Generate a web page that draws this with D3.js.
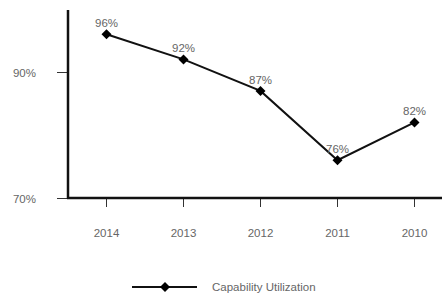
<!DOCTYPE html>
<html>
<head>
<meta charset="utf-8">
<script src="https://cdn.jsdelivr.net/npm/d3@7"></script>
<style>
  body { margin: 0; background: #fff; }
  svg { display: block; font-family: "Liberation Sans", Arial, sans-serif; }
  .lbl { fill: #666; font-size: 11.5px; }
</style>
</head>
<body>
<svg id="chart" width="442" height="301"></svg>
<script>
// data
const years = ['2014', '2013', '2012', '2011', '2010'];
const utilization = [96, 92, 87, 76, 82];
const yTicks = [70, 90];
const seriesName = 'Capability Utilization';

const svg = d3.select('#chart');

const x = d3.scaleBand().domain(years).range([68, 453]);
const y = d3.scaleLinear().domain([70, 100]).range([198, 9]);

// y axis
const yAxis = svg.append('g').attr('transform', 'translate(68,0)')
  .call(d3.axisLeft(y).tickValues(yTicks).tickSize(11).tickFormat(d => d + '%'));
yAxis.select('.domain').remove();
yAxis.selectAll('.tick line').attr('stroke', '#333');
yAxis.selectAll('.tick text').attr('class', 'lbl').attr('x', -32).attr('dy', '0.4em')
  .attr('font-size', null).attr('font-family', null);

// x axis
const xAxis = svg.append('g').attr('transform', 'translate(0,198)')
  .call(d3.axisBottom(x).tickSize(9).tickPadding(22));
xAxis.select('.domain').remove();
xAxis.selectAll('.tick line').attr('stroke', '#333');
xAxis.selectAll('.tick text').attr('class', 'lbl').attr('font-size', null).attr('font-family', null);

// axis lines
svg.append('line').attr('x1', 68).attr('x2', 68).attr('y1', 10).attr('y2', 199)
  .attr('stroke', '#111').attr('stroke-width', 2.5);
svg.append('line').attr('x1', 67).attr('x2', 442).attr('y1', 198).attr('y2', 198)
  .attr('stroke', '#111').attr('stroke-width', 2.5);

const cx = d => x(d) + x.bandwidth() / 2;
const pts = years.map((yr, i) => ({ yr, v: utilization[i] }));

svg.append('path').datum(pts)
  .attr('fill', 'none').attr('stroke', '#111').attr('stroke-width', 2)
  .attr('d', d3.line().x(d => cx(d.yr)).y(d => y(d.v)));

const diamond = d3.symbol().type(d3.symbolDiamond2).size(64);
svg.selectAll('.pt').data(pts).join('path')
  .attr('class', 'pt')
  .attr('d', diamond)
  .attr('transform', d => `translate(${cx(d.yr)},${y(d.v)})`)
  .attr('fill', '#000');

svg.selectAll('.val').data(pts).join('text')
  .attr('class', 'lbl')
  .attr('x', d => cx(d.yr))
  .attr('y', d => y(d.v) - 7)
  .attr('text-anchor', 'middle')
  .text(d => d.v + '%');

// legend
const lg = svg.append('g').attr('transform', 'translate(0,287)');
lg.append('line').attr('x1', 132).attr('x2', 197).attr('y1', 0).attr('y2', 0)
  .attr('stroke', '#111').attr('stroke-width', 2);
lg.append('path').attr('d', diamond).attr('transform', 'translate(165,0)').attr('fill', '#000');
lg.append('text').attr('class', 'lbl').attr('x', 212).attr('y', 4).text(seriesName);
</script>
</body>
</html>
